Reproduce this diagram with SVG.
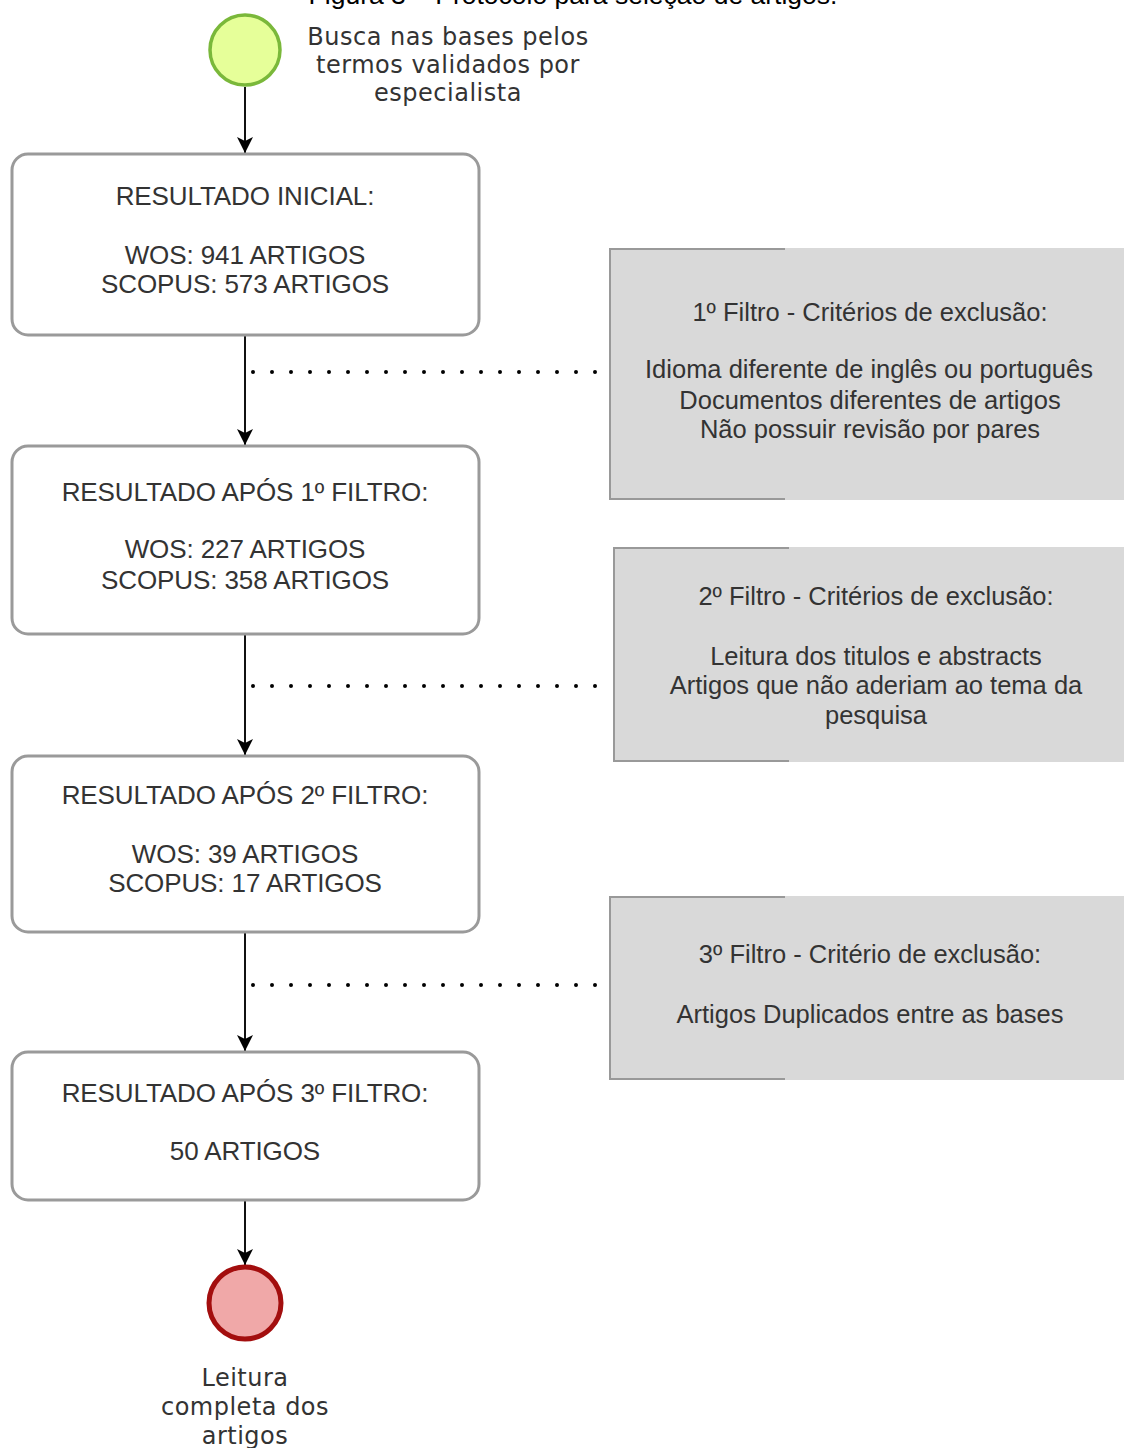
<svg xmlns="http://www.w3.org/2000/svg" width="1124" height="1448" viewBox="0 0 1124 1448">
<defs>
<style>
.t{font-family:"Liberation Sans",Arial,sans-serif;fill:#333;text-anchor:middle}
.b{font-size:26px;letter-spacing:-0.1px}
.f{font-size:25.5px;letter-spacing:0px}
.c{font-family:"DejaVu Sans",sans-serif;font-size:24px;letter-spacing:0.5px;fill:#333;text-anchor:middle}
.box{fill:#fff;stroke:#9a9a9a;stroke-width:3}
.gb{fill:#d9d9d9}
.gs{fill:none;stroke:#999;stroke-width:2}
.e{stroke:#111;stroke-width:2;fill:none}
.dot{stroke:#000;stroke-width:4;stroke-linecap:round;stroke-dasharray:0 19;fill:none}
</style>
<marker id="ah" viewBox="0 0 16 16" refX="16" refY="8" markerWidth="16" markerHeight="16" markerUnits="userSpaceOnUse" orient="auto">
<path d="M0,0 L16,8 L0,16 L4,8 Z" fill="#000"/>
</marker>
</defs>
<rect width="1124" height="1448" fill="#fff"/>
<text x="573" y="4" font-family="Liberation Sans,Arial,sans-serif" font-size="26.5" fill="#000" text-anchor="middle">Figura 3 – Protocolo para seleção de artigos.</text>

<g id="connectors">
<line class="e" x1="245" y1="87" x2="245" y2="153" marker-end="url(#ah)"/>
<line class="e" x1="245" y1="335" x2="245" y2="445" marker-end="url(#ah)"/>
<line class="e" x1="245" y1="634" x2="245" y2="755" marker-end="url(#ah)"/>
<line class="e" x1="245" y1="932" x2="245" y2="1051" marker-end="url(#ah)"/>
<line class="e" x1="245" y1="1200" x2="245" y2="1265" marker-end="url(#ah)"/>
<line class="dot" x1="253" y1="372" x2="600" y2="372"/>
<line class="dot" x1="253" y1="686" x2="600" y2="686"/>
<line class="dot" x1="253" y1="985" x2="600" y2="985"/>
</g>

<g id="start">
<circle cx="245" cy="50" r="35" fill="#e6ff99" stroke="#7ab83a" stroke-width="3.5"/>
<text class="c" x="448" y="45">Busca nas bases pelos</text>
<text class="c" x="448" y="73">termos validados por</text>
<text class="c" x="448" y="101">especialista</text>
</g>

<g id="r0">
<rect class="box" x="12" y="154" width="467" height="181" rx="16"/>
<text class="t b" x="245" y="205">RESULTADO INICIAL:</text>
<text class="t b" x="245" y="264">WOS: 941 ARTIGOS</text>
<text class="t b" x="245" y="293">SCOPUS: 573 ARTIGOS</text>
</g>

<g id="f1">
<rect class="gb" x="609" y="248" width="520" height="252"/>
<path class="gs" d="M785,249 H610 V499 H785"/>
<text class="t f" x="870" y="321">1º Filtro - Critérios de exclusão:</text>
<text class="t f" x="869" y="378">Idioma diferente de inglês ou português</text>
<text class="t f" x="870" y="409">Documentos diferentes de artigos</text>
<text class="t f" x="870" y="438">Não possuir revisão por pares</text>
</g>

<g id="r1">
<rect class="box" x="12" y="446" width="467" height="188" rx="16"/>
<text class="t b" x="245" y="501">RESULTADO APÓS 1º FILTRO:</text>
<text class="t b" x="245" y="558">WOS: 227 ARTIGOS</text>
<text class="t b" x="245" y="589">SCOPUS: 358 ARTIGOS</text>
</g>

<g id="f2">
<rect class="gb" x="613" y="547" width="516" height="215"/>
<path class="gs" d="M789,548 H614 V761 H789"/>
<text class="t f" x="876" y="605">2º Filtro - Critérios de exclusão:</text>
<text class="t f" x="876" y="665">Leitura dos titulos e abstracts</text>
<text class="t f" x="876" y="694">Artigos que não aderiam ao tema da</text>
<text class="t f" x="876" y="724">pesquisa</text>
</g>

<g id="r2">
<rect class="box" x="12" y="756" width="467" height="176" rx="16"/>
<text class="t b" x="245" y="804">RESULTADO APÓS 2º FILTRO:</text>
<text class="t b" x="245" y="863">WOS: 39 ARTIGOS</text>
<text class="t b" x="245" y="892">SCOPUS: 17 ARTIGOS</text>
</g>

<g id="f3">
<rect class="gb" x="609" y="896" width="520" height="184"/>
<path class="gs" d="M785,897 H610 V1079 H785"/>
<text class="t f" x="870" y="963">3º Filtro - Critério de exclusão:</text>
<text class="t f" x="870" y="1023">Artigos Duplicados entre as bases</text>
</g>

<g id="r3">
<rect class="box" x="12" y="1052" width="467" height="148" rx="16"/>
<text class="t b" x="245" y="1102">RESULTADO APÓS 3º FILTRO:</text>
<text class="t b" x="245" y="1160">50 ARTIGOS</text>
</g>

<g id="end">
<circle cx="245" cy="1303" r="36" fill="#f0a8a8" stroke="#a30e0e" stroke-width="5"/>
<text class="c" x="245" y="1386">Leitura</text>
<text class="c" x="245" y="1415">completa dos</text>
<text class="c" x="245" y="1444">artigos</text>
</g>
</svg>
